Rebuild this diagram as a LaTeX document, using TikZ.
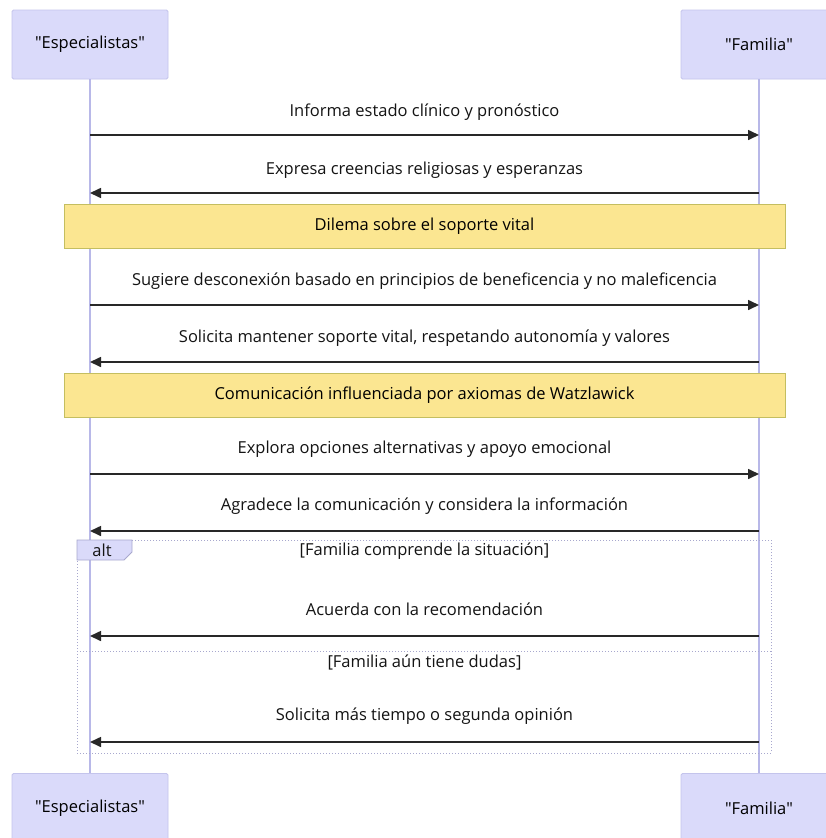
\documentclass[tikz,border=0pt]{standalone}
\usepackage{fontspec}
\setmainfont{Open Sans}
% a second face without the TeX ligature mapping, for straight quotes
\newfontfamily\plainquote{Open Sans}
\usetikzlibrary{arrows.meta}
\definecolor{actorfill}{RGB}{218,218,250}
\definecolor{actorline}{RGB}{196,196,236}
\definecolor{lifeline}{RGB}{184,184,232}
\definecolor{notefill}{RGB}{251,230,145}
\definecolor{noteline}{RGB}{196,190,96}
\definecolor{framecol}{RGB}{168,168,206}
\definecolor{msgcol}{RGB}{40,40,40}
\newcommand{\qq}[1]{{\plainquote\symbol{34}}#1{\plainquote\symbol{34}}}
\begin{document}
\begin{tikzpicture}[x=1pt,y=-1pt,
  actor/.style={draw=actorline,fill=actorfill,line width=0.8pt,rounded corners=1.5pt,
    minimum width=156pt,minimum height=69pt,inner sep=0pt,font=\fontsize{16.5}{19}\selectfont},
  life/.style={draw=lifeline,line width=1.3pt},
  msg/.style={draw=msgcol,line width=1.6pt,-{Triangle[length=11pt,width=10pt]}},
  lbl/.style={font=\fontsize{16.5}{19}\selectfont,text=black!92,inner sep=0pt},
  notebox/.style={draw=noteline,fill=notefill,line width=0.8pt,minimum width=721pt,
    minimum height=44pt,inner sep=0pt,font=\fontsize{16.5}{19}\selectfont},
  frame/.style={draw=framecol,line width=1pt,dotted}]
\useasboundingbox[fill=white] (0,0) rectangle (826,838);

% participants, top and bottom
\node[actor] (esp) at (90,44.5) {\qq{Especialistas}};
\node[actor] (fam) at (759,44.5) {\qq{Familia}};
\node[actor] (espB) at (90,808) {\qq{Especialistas}};
\node[actor] (famB) at (759,808) {\qq{Familia}};

% lifelines
\draw[life] (esp.south) -- (espB.north);
\draw[life] (fam.south) -- (famB.north);

% message anchors on the lifelines
\foreach \n/\y in {1/135,2/193,3/305,4/362,5/474,6/531,7/636,8/742}{
  \coordinate (e\n) at (90,\y);
  \coordinate (f\n) at (759,\y);
}

\draw[msg] (e1) -- node[lbl,yshift=23pt] {Informa estado clínico y pronóstico} (f1);
\draw[msg] (f2) -- node[lbl,yshift=23pt] {Expresa creencias religiosas y esperanzas} (e2);

\node[notebox] (n1) at (424.5,226) {Dilema sobre el soporte vital};

\draw[msg] (e3) -- node[lbl,yshift=24pt] {Sugiere desconexión basado en principios de beneficencia y no maleficencia} (f3);
\draw[msg] (f4) -- node[lbl,yshift=24pt] {Solicita mantener soporte vital, respetando autonomía y valores} (e4);

\node[notebox] (n2) at (424.5,395) {Comunicación influenciada por axiomas de Watzlawick};

\draw[msg] (e5) -- node[lbl,yshift=25pt] {Explora opciones alternativas y apoyo emocional} (f5);
\draw[msg] (f6) -- node[lbl,yshift=25pt] {Agradece la comunicación y considera la información} (e6);

% alt fragment
\coordinate (a1) at (77,540);
\coordinate (a2) at (771,753);
\draw[frame] (a1) rectangle (a2);
\draw[frame] (77,651) -- (771,651);
\filldraw[draw=framecol,fill=actorfill,line width=0.8pt]
  (77,540) -- (132,540) -- (132,552) -- (124,560) -- (77,560) -- cycle;
\node[lbl] (altlbl) at (102,550) {alt};
\node[lbl] (c1) at (424.5,551) {[Familia comprende la situación]};
\node[lbl] (c2) at (424.5,662) {[Familia aún tiene dudas]};

\draw[msg] (f7) -- node[lbl,yshift=27pt] {Acuerda con la recomendación} (e7);
\draw[msg] (f8) -- node[lbl,yshift=26pt] {Solicita más tiempo o segunda opinión} (e8);
\end{tikzpicture}
\end{document}
